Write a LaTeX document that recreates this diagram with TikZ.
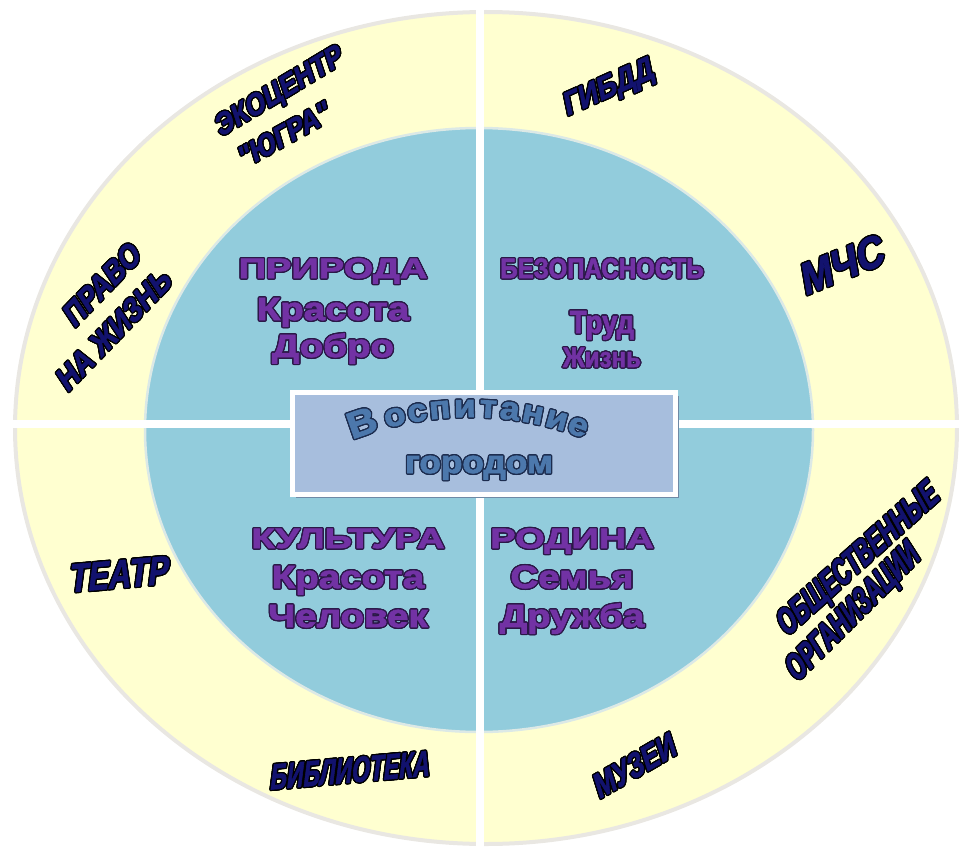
\documentclass[tikz,border=0pt]{standalone}
\usepackage{fontspec}
\setmainfont{Liberation Sans}
\newfontfamily\capsfont[FakeStretch=1.36, FakeBold=2.5]{Liberation Sans Bold}
\newfontfamily\wordfont[FakeStretch=1.2, FakeBold=2.5]{Liberation Sans Bold}
\newfontfamily\narrowfont[FakeStretch=0.86, FakeBold=2]{Liberation Sans Bold}
\newfontfamily\titlefont[FakeStretch=1.1, FakeBold=2.5]{Liberation Sans Bold}
\newfontfamily\slantfont[FakeStretch=0.88, FakeSlant=0.22, FakeBold=1.5]{Liberation Sans Bold}
\newfontfamily\midfont[FakeStretch=0.77, FakeSlant=0.22, FakeBold=1.5]{Liberation Sans Bold}
\newfontfamily\condfont[FakeStretch=0.64, FakeSlant=0.22, FakeBold=1.5]{Liberation Sans Bold}
\usepackage{contour}
\contourlength{1.3pt}
\contournumber{16}
\usepackage{tikz}
\usetikzlibrary{
  positioning,
  shadows
}
\definecolor{ringyellow}{HTML}{FFFFD0}
\definecolor{ringedge}{HTML}{E9E7E2}
\definecolor{coreblue}{HTML}{92CCDC}
\definecolor{coreedge}{HTML}{DCE9E6}
\definecolor{boxblue}{HTML}{A7BEDD}
\definecolor{boxshade}{HTML}{6F8AA6}
\definecolor{inkpurple}{HTML}{7232A4}
\definecolor{inkdark}{HTML}{2B1848}
\definecolor{titleblue}{HTML}{4C78AC}
\definecolor{titledark}{HTML}{1C2C4E}
\definecolor{navy}{HTML}{12126E}
\newcommand\pur[1]{\contour{inkdark}{#1}}
\newcommand\nav[1]{\contour{black}{#1}}
\newcommand\ttl[1]{\contour{titledark}{#1}}
\tikzset{
  ring/.style={fill=ringyellow, draw=ringedge, line width=4pt},
  core/.style={fill=coreblue, draw=coreedge, line width=2.5pt},
  gap/.style={draw=white, line width=8pt},
  cityframe/.style={fill=boxblue, draw=white, line width=5pt,
    minimum width=383pt, minimum height=102pt,
    drop shadow={shadow xshift=4pt, shadow yshift=-4pt, fill=boxshade, opacity=1}},
  head/.style={text=inkpurple, inner sep=0pt, anchor=base,
    font=\capsfont\fontsize{28}{28}\selectfont},
  word/.style={text=inkpurple, inner sep=0pt, anchor=base,
    font=\wordfont\fontsize{32}{32}\selectfont},
  safety/.style={text=inkpurple, inner sep=0pt, anchor=base,
    font=\narrowfont\fontsize{28}{28}\selectfont},
  letter/.style={text=titleblue, inner sep=0pt, anchor=base,
    font=\titlefont\fontsize{32}{32}\selectfont},
  partner/.style={text=navy, inner sep=0pt, align=center}
}
\begin{document}
\begin{tikzpicture}[x=1pt, y=-1pt]
  \useasboundingbox (0,0) rectangle (959,851);
  % rings
  \draw[ring] (486,428) ellipse [x radius=471, y radius=416];
  \draw[core] (479,430) ellipse [x radius=334, y radius=302];
  \draw[gap] (480,6) -- (480,850);
  \draw[gap] (8,424) -- (959,424);

  % centre
  \node[cityframe] (city) at (483.5,443) {};
  \foreach \ang/\ch [count=\i] in {109.1/{\fontsize{37}{37}\selectfont В}, 103.3/о, 99.3/с,
      95.3/п, 90.9/и, 86.8/т, 83.0/а, 78.9/н, 74.6/и, 70.7/е} {
    \pgfmathsetmacro\rot{\ang-90}
    \node[letter, rotate=\rot] (ltr\i) at ({470+318*cos(\ang)}, {735-318*sin(\ang)}) {\ttl{\ch}};
  }
  \node[letter] (gorodom) at (479,473) {\ttl{городом}};

  % inner themes
  \node[head] (priroda) at (333,278) {\pur{ПРИРОДА}};
  \node[word, below=42pt of priroda.base, anchor=base] (priroda-a) {\pur{Красота}};
  \node[word, below=37pt of priroda-a.base, anchor=base] (priroda-b) {\pur{Добро}};

  \node[safety] (bezop) at (602,278) {\pur{БЕЗОПАСНОСТЬ}};
  \node[safety, font=\narrowfont\fontsize{32}{32}\selectfont,
    below=55pt of bezop.base, anchor=base] (bezop-a) {\pur{Труд}};
  \node[safety, below=34pt of bezop-a.base, anchor=base] (bezop-b) {\pur{Жизнь}};

  \node[head] (kultura) at (348,548) {\pur{КУЛЬТУРА}};
  \node[word, below=40pt of kultura.base, anchor=base] (kultura-a) {\pur{Красота}};
  \node[word, below=39pt of kultura-a.base, anchor=base] (kultura-b) {\pur{Человек}};

  \node[head] (rodina) at (572,548) {\pur{РОДИНА}};
  \node[word, below=40pt of rodina.base, anchor=base] (rodina-a) {\pur{Семья}};
  \node[word, below=39pt of rodina-a.base, anchor=base] (rodina-b) {\pur{Дружба}};

  % partners
  \node[partner, rotate=31, font=\slantfont\fontsize{30}{30}\selectfont]
    (ekocentr) at (279,94) {\nav{ЭКОЦЕНТР}};
  \node[partner, rotate=29, font=\slantfont\fontsize{30}{30}\selectfont]
    (yugra) at (283,136) {\nav{"ЮГРА"}};
  \node[partner, rotate=46, font=\slantfont\fontsize{32}{32}\selectfont]
    (pravo) at (101,286) {\nav{ПРАВО}};
  \node[partner, rotate=46, font=\slantfont\fontsize{32}{32}\selectfont]
    (zhizn) at (113,331) {\nav{НА ЖИЗНЬ}};
  \node[partner, rotate=24, font=\slantfont\fontsize{32}{32}\selectfont]
    (gibdd) at (608,90) {\nav{ГИБДД}};
  \node[partner, rotate=22, font=\slantfont\fontsize{44}{44}\selectfont]
    (mchs) at (840,266) {\nav{МЧС}};
  \node[partner, rotate=5, font=\midfont\fontsize{40}{40}\selectfont]
    (teatr) at (117,575) {\nav{ТЕАТР}};
  \node[partner, rotate=5, font=\condfont\fontsize{36}{36}\selectfont]
    (biblio) at (348,771) {\nav{БИБЛИОТЕКА}};
  \node[partner, rotate=30, font=\midfont\fontsize{34}{34}\selectfont]
    (muzei) at (633,767) {\nav{МУЗЕИ}};
  \node[partner, rotate=42, font=\condfont\fontsize{36}{36}\selectfont]
    (obshch) at (858,562) {\nav{ОБЩЕСТВЕННЫЕ}};
  \node[partner, rotate=45, font=\condfont\fontsize{36}{36}\selectfont]
    (organiz) at (853,615) {\nav{ОРГАНИЗАЦИИ}};
\end{tikzpicture}
\end{document}
